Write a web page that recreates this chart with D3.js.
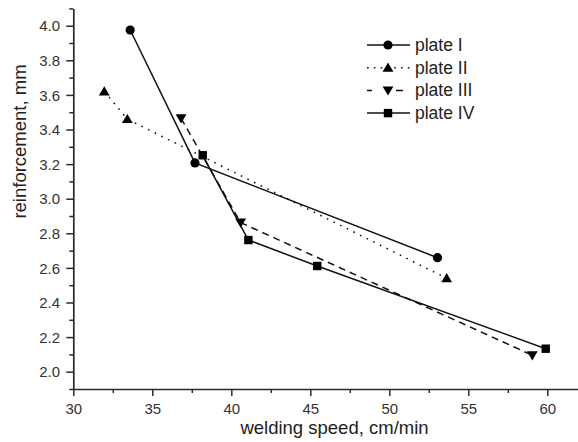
<!DOCTYPE html>
<html><head><meta charset="utf-8">
<script src="https://cdn.jsdelivr.net/npm/d3@7"></script>
<style>body{margin:0;background:#fff;} text{font-family:Arial,"Liberation Sans",sans-serif;}</style>
</head><body>
<svg id="c" width="578" height="442"></svg>
<script>
const seriesNames = ["plate I", "plate II", "plate III", "plate IV"];
const plateI_x = [33.6, 37.7, 53.05];
const plateI_y = [3.975, 3.207, 2.659];
const plateII_x = [31.96, 33.42, 53.63];
const plateII_y = [3.62, 3.46, 2.54];
const plateIII_x = [36.82, 40.59, 59.05];
const plateIII_y = [3.465, 2.862, 2.095];
const plateIV_x = [38.19, 41.08, 45.44, 59.9];
const plateIV_y = [3.251, 2.761, 2.611, 2.133];
const xTicks = [30, 35, 40, 45, 50, 55, 60];
const yTicks = [2.0, 2.2, 2.4, 2.6, 2.8, 3.0, 3.2, 3.4, 3.6, 3.8, 4.0];

const svg = d3.select("#c");
const x = d3.scaleLinear().domain([30, 62]).range([73.3, 578.9]);
const y = d3.scaleLinear().domain([1.9, 4.1]).range([389, 8.4]);
const ink = "#2a2a2a";
const FF = "Arial, Liberation Sans, sans-serif";

const xAxis = svg.append("g").attr("transform", "translate(0,389)")
  .call(d3.axisBottom(x).tickValues(xTicks).tickFormat(d3.format("d")).tickSize(7).tickSizeOuter(0));
svg.append("g").attr("transform", "translate(0,389)")
  .call(d3.axisBottom(x).tickValues(d3.range(32.5, 62, 5)).tickFormat("").tickSize(4).tickSizeOuter(0))
  .select(".domain").remove();
const yAxis = svg.append("g").attr("transform", "translate(73.3,0)")
  .call(d3.axisLeft(y).tickValues(yTicks).tickFormat(d3.format(".1f")).tickSize(7).tickSizeOuter(0));
svg.append("g").attr("transform", "translate(73.3,0)")
  .call(d3.axisLeft(y).tickValues(d3.range(1.9, 4.15, 0.2).map(v => +v.toFixed(1))).tickFormat("").tickSize(4).tickSizeOuter(0))
  .select(".domain").remove();
svg.selectAll(".domain").attr("stroke", ink).attr("stroke-width", 1.7);
svg.selectAll(".tick line").attr("stroke", ink).attr("stroke-width", 1.5);
xAxis.selectAll(".tick text").attr("font-size", 15).attr("fill", "#333").attr("dy", "1.0em").attr("font-family", FF);
yAxis.selectAll(".tick text").attr("font-size", 15).attr("fill", "#333").attr("dx", "-0.22em").attr("dy", "0.34em").attr("font-family", FF);

svg.append("text").attr("x", 334.5).attr("y", 434).attr("text-anchor", "middle")
  .attr("font-size", 18.5).attr("fill", "#222").text("welding speed, cm/min");
svg.append("text").attr("transform", "translate(26,141.5) rotate(-90)").attr("text-anchor", "middle")
  .attr("font-size", 18.5).attr("fill", "#222").text("reinforcement, mm");

const series = [
  {xs: plateI_x, ys: plateI_y, dash: null, sym: "circle"},
  {xs: plateII_x, ys: plateII_y, dash: "1.6,5.8", sym: "up"},
  {xs: plateIII_x, ys: plateIII_y, dash: "7,5", sym: "down"},
  {xs: plateIV_x, ys: plateIV_y, dash: null, sym: "square"}
];
function marker(g, sym, cx, cy) {
  if (sym === "circle") g.append("circle").attr("cx", cx).attr("cy", cy).attr("r", 4.6).attr("fill", "#000");
  else if (sym === "square") g.append("rect").attr("x", cx - 4.2).attr("y", cy - 4.2).attr("width", 8.4).attr("height", 8.4).attr("fill", "#000");
  else if (sym === "up") g.append("path").attr("d", `M${cx},${cy-5.2}L${cx+5.4},${cy+4}L${cx-5.4},${cy+4}Z`).attr("fill", "#000");
  else g.append("path").attr("d", `M${cx},${cy+5.2}L${cx+5.4},${cy-4}L${cx-5.4},${cy-4}Z`).attr("fill", "#000");
}
const line = d3.line().x(d => x(d[0])).y(d => y(d[1]));
series.forEach(s => {
  const pts = s.xs.map((v, i) => [v, s.ys[i]]);
  const p = svg.append("path").attr("d", line(pts)).attr("fill", "none").attr("stroke", "#111").attr("stroke-width", 1.5);
  if (s.dash) p.attr("stroke-dasharray", s.dash);
});
series.forEach(s => {
  const g = svg.append("g");
  s.xs.forEach((v, i) => marker(g, s.sym, x(v), y(s.ys[i])));
});

const lg = svg.append("g");
series.forEach((s, i) => {
  const yy = 45 + i * 22.7;
  const l = lg.append("line").attr("x1", 367).attr("x2", 410).attr("y1", yy).attr("y2", yy)
    .attr("stroke", "#111").attr("stroke-width", 1.5);
  if (s.dash) l.attr("stroke-dasharray", s.sym === "down" ? "5,24,7,10" : "1.6,5.2");
  marker(lg, s.sym, 388, yy);
  lg.append("text").attr("x", 415).attr("y", yy + 6).attr("font-size", 17.5).attr("fill", "#222").text(seriesNames[i]);
});
</script>
</body></html>
